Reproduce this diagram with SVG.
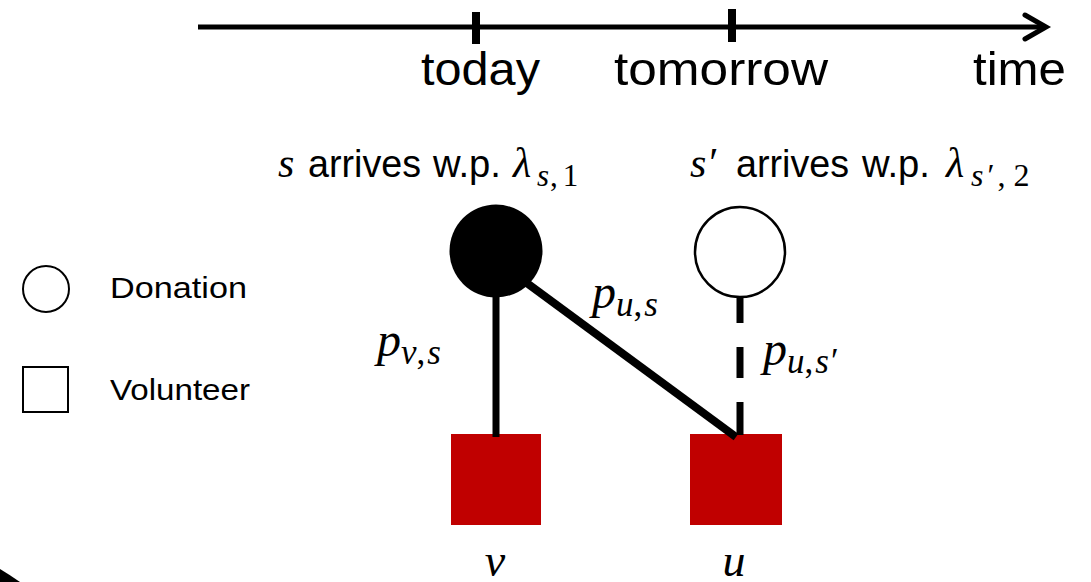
<svg xmlns="http://www.w3.org/2000/svg" width="1091" height="582" viewBox="0 0 1091 582">
<style>
.sans{font-family:"Liberation Sans",Arial,sans-serif;fill:#000}
.mi{font-family:"Liberation Serif","Times New Roman",serif;font-style:italic;fill:#000}
.up{font-family:"Liberation Serif","Times New Roman",serif;font-style:normal;fill:#000}
.edge{stroke:#000;fill:none}
.vol{fill:#C00000}
</style>
<rect width="1091" height="582" fill="#fff"/>
<g id="timeline">
<line x1="198" y1="27" x2="1043" y2="27" stroke="#000" stroke-width="5"/>
<polyline points="1025,15 1046,27 1025,39" fill="none" stroke="#000" stroke-width="5" stroke-linecap="round"/>
<rect x="472" y="12" width="8" height="32" fill="#000"/>
<rect x="728" y="9" width="8" height="33" fill="#000"/>
<text class="sans" x="421" y="85" font-size="47" textLength="119" lengthAdjust="spacingAndGlyphs">today</text>
<text class="sans" x="614" y="85" font-size="47" textLength="214" lengthAdjust="spacingAndGlyphs">tomorrow</text>
<text class="sans" x="973" y="85" font-size="47" textLength="93" lengthAdjust="spacingAndGlyphs">time</text>
</g>
<g id="legend">
<circle cx="46" cy="289" r="23" fill="none" stroke="#000" stroke-width="2"/>
<rect x="23" y="367" width="45" height="45" fill="none" stroke="#000" stroke-width="2"/>
<text class="sans" x="110" y="298" font-size="29" textLength="137" lengthAdjust="spacingAndGlyphs">Donation</text>
<text class="sans" x="110" y="400" font-size="29" textLength="140" lengthAdjust="spacingAndGlyphs">Volunteer</text>
</g>
<g id="arrival-labels">
<text class="mi" x="278" y="177" font-size="42">s</text>
<text class="sans" x="308" y="177" font-size="38" textLength="113" lengthAdjust="spacingAndGlyphs">arrives</text>
<text class="sans" x="433" y="177" font-size="38" textLength="68" lengthAdjust="spacingAndGlyphs">w.p.</text>
<text class="mi" x="513" y="177" font-size="42">λ</text>
<text class="mi" x="537" y="186" font-size="31">s<tspan class="up" dx="1">,</tspan><tspan class="up" dx="5">1</tspan></text>

<text class="mi" x="690" y="177" font-size="42">s<tspan class="up" dx="3">′</tspan></text>
<text class="sans" x="736" y="177" font-size="38" textLength="113" lengthAdjust="spacingAndGlyphs">arrives</text>
<text class="sans" x="862" y="177" font-size="38" textLength="68" lengthAdjust="spacingAndGlyphs">w.p.</text>
<text class="mi" x="946" y="177" font-size="42">λ</text>
<text class="mi" x="971" y="186" font-size="32">s<tspan class="up" dx="4">′</tspan><tspan class="up" dx="3">,</tspan><tspan class="up" dx="8">2</tspan></text>
</g>
<g id="donation-s">
<circle cx="496" cy="251" r="46.5" fill="#000"/>
</g>
<g id="donation-s-prime">
<circle cx="740" cy="252" r="45" fill="#fff" stroke="#000" stroke-width="2.5"/>
</g>
<g id="volunteer-v">
<rect class="vol" x="451" y="434" width="90" height="91"/>
<text class="mi" x="495" y="576" font-size="46" text-anchor="middle">v</text>
</g>
<g id="volunteer-u">
<rect class="vol" x="690" y="434" width="92" height="91"/>
<text class="mi" x="734" y="576" font-size="46" text-anchor="middle">u</text>
</g>
<g id="connectors">
<line class="edge" x1="496" y1="296" x2="496" y2="437" stroke-width="7"/>
<line class="edge" x1="520" y1="278" x2="736" y2="437" stroke-width="8"/>
<line class="edge" x1="740" y1="297" x2="740" y2="435" stroke-width="7" stroke-dasharray="26 24 31 24 33"/>
</g>
<g id="edge-labels">
<text class="mi" x="377" y="356" font-size="48">p<tspan font-size="35" dy="8">v</tspan><tspan class="up" font-size="35">,</tspan><tspan font-size="35" dx="2">s</tspan></text>
<text class="mi" x="592" y="308" font-size="48">p<tspan font-size="35" dy="8">u</tspan><tspan class="up" font-size="35">,</tspan><tspan font-size="35" dx="2">s</tspan></text>
<text class="mi" x="763" y="365" font-size="48">p<tspan font-size="35" dy="8">u</tspan><tspan class="up" font-size="35">,</tspan><tspan font-size="35" dx="2">s</tspan><tspan class="up" font-size="35" dx="2">′</tspan></text>
</g>
<path d="M0,569 Q10,575 20,582 L0,582 Z" fill="#000"/>
</svg>
